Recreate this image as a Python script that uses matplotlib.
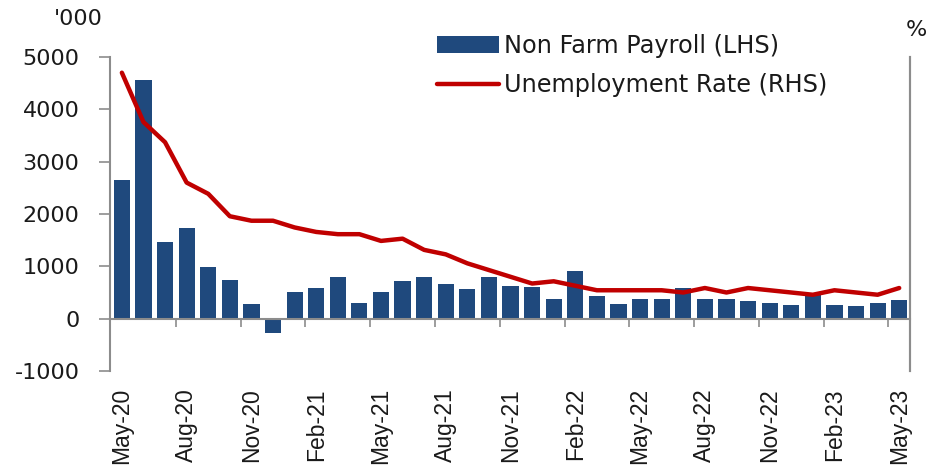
import numpy as np
import matplotlib
matplotlib.use("Agg")
import matplotlib.pyplot as plt

plt.rcParams["axes.unicode_minus"] = False

# Monthly data, May-20 .. May-23
months = ["May-20", "Jun-20", "Jul-20", "Aug-20", "Sep-20", "Oct-20", "Nov-20", "Dec-20",
          "Jan-21", "Feb-21", "Mar-21", "Apr-21", "May-21", "Jun-21", "Jul-21", "Aug-21",
          "Sep-21", "Oct-21", "Nov-21", "Dec-21", "Jan-22", "Feb-22", "Mar-22", "Apr-22",
          "May-22", "Jun-22", "Jul-22", "Aug-22", "Sep-22", "Oct-22", "Nov-22", "Dec-22",
          "Jan-23", "Feb-23", "Mar-23", "Apr-23", "May-23"]

# Non farm payroll, thousands (LHS)
payroll = [2650, 4570, 1470, 1730, 980, 740, 280, -270,
           500, 595, 790, 300, 500, 720, 790, 670,
           570, 790, 620, 600, 380, 910, 425, 280,
           380, 380, 595, 380, 370, 330, 300, 255,
           455, 255, 235, 300, 355]

# Unemployment rate, % (RHS)
unemp = [13.3, 11.1, 10.2, 8.4, 7.9, 6.9, 6.7, 6.7,
         6.4, 6.2, 6.1, 6.1, 5.8, 5.9, 5.4, 5.2,
         4.8, 4.5, 4.2, 3.9, 4.0, 3.8, 3.6, 3.6,
         3.6, 3.6, 3.5, 3.7, 3.5, 3.7, 3.6, 3.5,
         3.4, 3.6, 3.5, 3.4, 3.7]

bar_color = "#1F497D"
line_color = "#C00000"
grey = "#8C8C8C"
text_color = "#1a1a1a"

W, H = 931, 473
fig = plt.figure(figsize=(W / 100, H / 100), dpi=100)
ax = fig.add_axes([110 / W, 1 - 371 / H, 800 / W, 314 / H])

x = np.arange(len(months))
bars = ax.bar(x, payroll, width=0.75, color=bar_color, label="Non Farm Payroll (LHS)", zorder=2)

ax.set_xlim(-0.55, len(months) - 0.5)
ax.set_ylim(-1000, 5000)
ax.set_yticks(range(-1000, 5001, 1000))
ax.tick_params(axis="y", length=8, width=1.2, color=grey, pad=14, labelsize=16,
               labelcolor=text_color)

# x axis crosses at zero
ax.spines["bottom"].set_position(("data", 0))
ax.spines["top"].set_visible(False)
for s in ["bottom", "left", "right"]:
    ax.spines[s].set_color(grey)
    ax.spines[s].set_linewidth(1.5)

ax.set_xticks(x[::3])
ax.set_xticklabels(months[::3], rotation=90, fontsize=16.5, fontfamily="Liberation Sans",
                   color=text_color)
ax.set_xticks(x[2:-1:3] + 0.5, minor=True)
ax.tick_params(axis="x", which="major", length=0, pad=50)
ax.tick_params(axis="x", which="minor", length=6, width=1.2, color=grey, direction="out")

ax2 = ax.twinx()
line, = ax2.plot(x, unemp, color=line_color, linewidth=3.2, label="Unemployment Rate (RHS)",
                 solid_capstyle="round", zorder=3)
ax2.set_ylim(0, 14)
ax2.set_yticks([])
ax2.spines["top"].set_visible(False)
ax2.spines["bottom"].set_visible(False)
ax2.spines["left"].set_visible(False)
ax2.spines["right"].set_color(grey)
ax2.spines["right"].set_linewidth(1.5)

fig.text(78 / W, 1 - 19 / H, "'000", fontsize=16, ha="center", va="center", color=text_color)
fig.text(916 / W, 1 - 30 / H, "%", fontsize=16, ha="center", va="center", color=text_color)

fig.legend(handles=[bars, line], loc="upper left", bbox_to_anchor=(437 / W, 1 - 34 / H),
           frameon=False, fontsize=17.3, handlelength=2.6, handleheight=0.67,
           handletextpad=0.2, labelspacing=0.62, borderpad=0, borderaxespad=0,
           labelcolor=text_color)

fig.savefig("out.png", dpi=100)
